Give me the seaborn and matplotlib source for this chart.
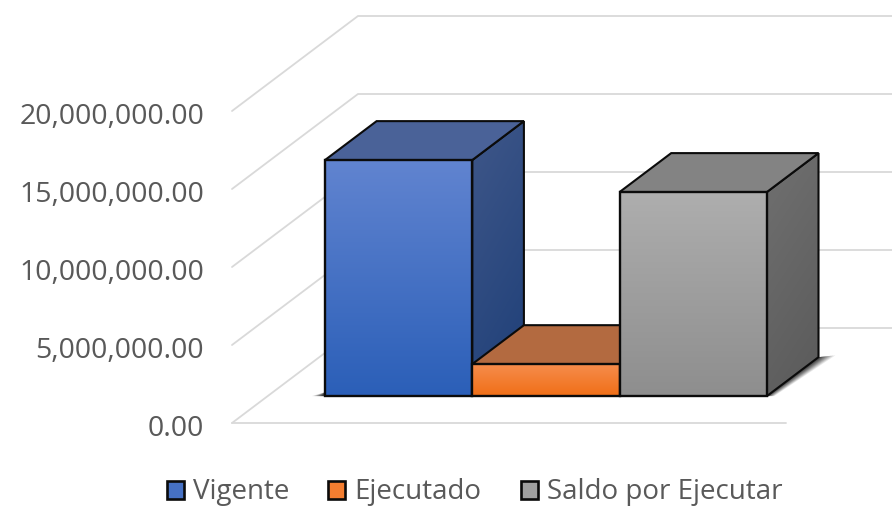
import numpy as np
import matplotlib
matplotlib.use("Agg")
import matplotlib.pyplot as plt
from matplotlib.patches import Polygon
from matplotlib.transforms import Affine2D, ScaledTranslation
from matplotlib.colors import LinearSegmentedColormap
import seaborn as sns

# Data
categories = ["Vigente", "Ejecutado", "Saldo por Ejecutar"]
values = [15130000, 2050000, 13080000]
y_ticks = [0, 5000000, 10000000, 15000000, 20000000]

# Styles
front_top = ["#6184d0", "#f68c4c", "#aeaeae"]
front_bot = ["#2b5fb8", "#f06f17", "#8e8e8e"]
mid_col = ["#4671c4", "#f37d30", "#a0a0a0"]
top_col = ["#4a6298", "#b36a40", "#838383"]
side_top = ["#3f5789", "#a8623a", "#707070"]
side_bot = ["#1e3f78", "#94501f", "#5a5a5a"]
edge = "#0b0b0b"
grid = "#d9d9d9"
text = "#595959"

W, H = 892, 507
sns.set_style("white")
plt.rcParams["font.family"] = ["Open Sans", "DejaVu Sans"]

fig = plt.figure(figsize=(W / 100, H / 100), dpi=100)
ax = fig.add_axes([232 / W, 1 - 423 / H, (786 - 232) / W, (423 - 111) / H])
sns.barplot(x=categories, y=values, hue=categories, palette=mid_col, width=1.0,
            dodge=False, legend=False, ax=ax, zorder=5)

XMIN, XMAX = -0.889, 2.872
ax.set_xlim(XMIN, XMAX)
ax.set_ylim(0, 20000000)
ax.set_autoscale_on(False)
DX = 126 / 147.33            # depth offset, category units
DY = 95 / 78 * 5000000       # depth offset, value units
D_FRONT, D_BACK = 0.283, 0.693


def proj(x, y, d):
    return (x + d * DX, y + d * DY)


def gradient(poly_patch, c_top, c_bot, z, diag=False):
    xy = poly_patch.get_xy()
    xs, ys = xy[:, 0], xy[:, 1]
    cmap = LinearSegmentedColormap.from_list("g", [c_top, c_bot])
    g = np.linspace(0, 1, 200)[:, None] * np.ones((200, 200))
    if diag:
        g = g * 0.75 + 0.25 * np.linspace(0, 1, 200)[None, :] * np.ones((200, 200))
    im = ax.imshow(g, extent=(xs.min(), xs.max(), ys.min(), ys.max()), origin="upper",
                   aspect="auto", cmap=cmap, vmin=0, vmax=1, zorder=z)
    im.set_clip_box(fig.bbox)
    im.set_clip_path(poly_patch)


# Walls and floor grid
for t in y_ticks:
    x0, y0 = proj(XMIN, t, 0)
    x1, y1 = proj(XMIN, t, 1)
    x2 = XMAX + DX + 1
    ax.plot([x0, x1, x2], [y0, y1, y1], color=grid, lw=1.3, clip_on=False, zorder=1,
            solid_joinstyle="miter")
ax.plot([XMIN, XMAX], [0, 0], color=grid, lw=1.3, clip_on=False, zorder=1)

# Soft floor shadow
x_l = -0.5
x_r = 2.5
for k, a in zip(np.linspace(1, 0.25, 7), [0.05, 0.06, 0.07, 0.08, 0.09, 0.10, 0.12]):
    pts = [proj(x_r, 0, D_FRONT), proj(x_r, 0, D_BACK),
           (proj(x_r, 0, D_BACK)[0] + 0.115 * k, proj(x_r, 0, D_BACK)[1] + 120000 * k),
           (proj(x_r, 0, D_FRONT)[0] + 0.05 * k, proj(x_r, 0, D_FRONT)[1])]
    ax.add_patch(Polygon(pts, closed=True, fc="black", ec="none", alpha=a * 1.8, zorder=2, clip_on=False))
    pts = [proj(x_l, 0, D_FRONT), (proj(x_l, 0, D_FRONT)[0] - 0.09 * k, proj(x_l, 0, D_FRONT)[1]),
           proj(x_l, 250000, D_FRONT)]
    ax.add_patch(Polygon(pts, closed=True, fc="black", ec="none", alpha=a * 2.2, zorder=2, clip_on=False))

# 3D bars
front_tf = Affine2D().translate(D_FRONT * DX, D_FRONT * DY) + ax.transData
for i, (bar, v) in enumerate(zip(ax.patches, values)):
    z = 3 + i
    x0, x1 = i - 0.5, i + 0.5
    # side face
    side = [proj(x1, 0, D_FRONT), proj(x1, 0, D_BACK), proj(x1, v, D_BACK), proj(x1, v, D_FRONT)]
    side_p = Polygon(side, closed=True, fc=side_top[i], ec="none", zorder=z, clip_on=False)
    ax.add_patch(side_p)
    gradient(side_p, side_top[i], side_bot[i], z + 0.05, diag=True)
    ax.add_patch(Polygon(side, closed=True, fc="none", ec=edge, lw=1.5, zorder=z + 0.1, clip_on=False, joinstyle="miter"))
    # top face
    top = [proj(x0, v, D_FRONT), proj(x1, v, D_FRONT), proj(x1, v, D_BACK), proj(x0, v, D_BACK)]
    ax.add_patch(Polygon(top, closed=True, fc=top_col[i], ec=edge, lw=1.5, zorder=z + 0.1, clip_on=False, joinstyle="miter"))
    # front face
    fp = [proj(x0, 0, D_FRONT), proj(x1, 0, D_FRONT), proj(x1, v, D_FRONT), proj(x0, v, D_FRONT)]
    fp_p = Polygon(fp, closed=True, fc=mid_col[i], ec="none", zorder=z + 0.2, clip_on=False)
    ax.add_patch(fp_p)
    gradient(fp_p, front_top[i], front_bot[i], z + 0.25)
    bar.set_transform(front_tf)
    bar.set_facecolor((0, 0, 0, 0))
    bar.set_edgecolor(edge)
    bar.set_linewidth(1.7)
    bar.set_zorder(z + 0.3)
    bar.set_clip_on(False)
    bar.set_joinstyle("miter")

ax.set_xlim(XMIN, XMAX)
ax.set_ylim(0, 20000000)

# Axes
ax.set_xticks([])
ax.set_yticks(y_ticks)
ax.set_yticklabels([f"{t:,.2f}" for t in y_ticks], color=text, fontsize=20.5)
ax.tick_params(axis="y", length=0, pad=20)
shift = ScaledTranslation(0, -2 / 100, fig.dpi_scale_trans)
for lab in ax.get_yticklabels():
    lab.set_transform(lab.get_transform() + shift)
ax.set_xlabel("")
ax.set_ylabel("")
for s in ax.spines.values():
    s.set_visible(False)
ax.patch.set_alpha(0)

# Legend
handles = [plt.Rectangle((0, 0), 1, 1, fc=c, ec=edge, lw=1.9) for c in mid_col]
ax.legend(handles, categories, ncol=3, frameon=False, fontsize=20, labelcolor=text,
          loc="center", bbox_to_anchor=(474.5 / W, 1 - 492.5 / H), bbox_transform=fig.transFigure,
          handlelength=0.62, handleheight=0.62, handletextpad=0.33, columnspacing=1.4,
          borderpad=0, borderaxespad=0)

fig.savefig("out.png", dpi=100)
